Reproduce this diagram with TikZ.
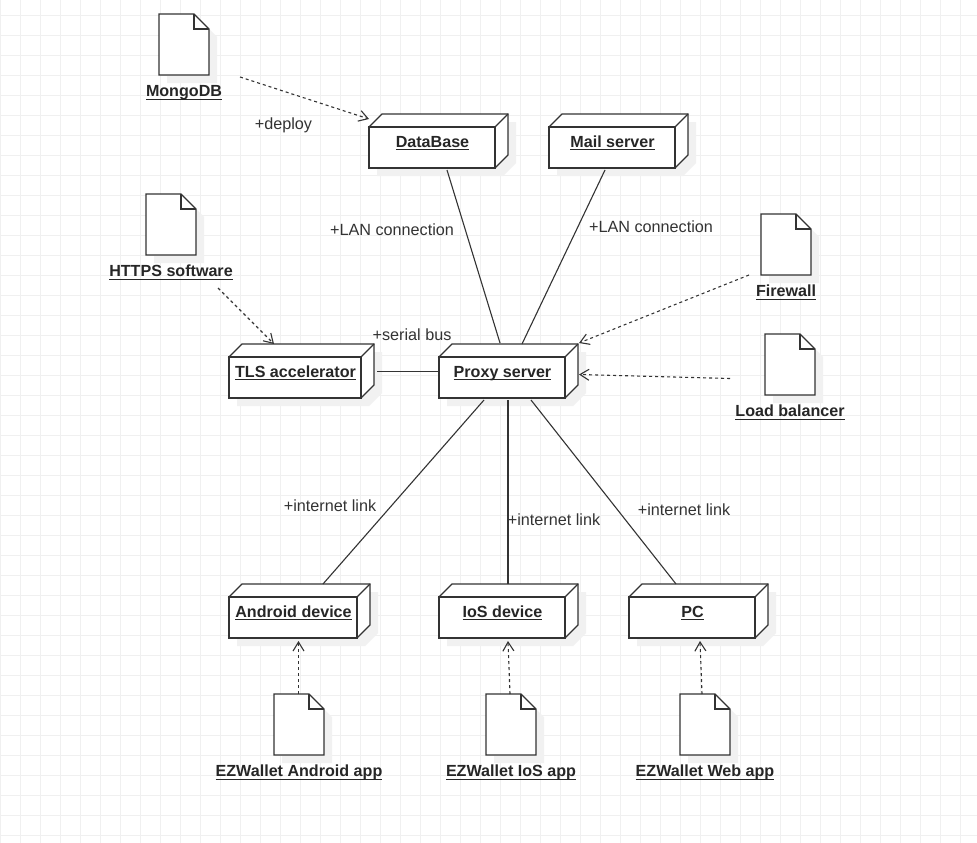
\documentclass[tikz,border=0pt]{standalone}
\usepackage{fontspec}
\setmainfont{Liberation Sans}
\usepackage{tikz}
\usetikzlibrary{arrows.meta,calc}

\definecolor{inkgray}{HTML}{333333}
\definecolor{shadowgray}{HTML}{F1F1F1}
\definecolor{gridgray}{HTML}{F0F0F0}

\tikzset{
  devbox/.style={draw=inkgray, line width=1.1pt, fill=white, inner sep=0pt, outer sep=0pt, minimum height=41pt},
  devtext/.style={font=\fontsize{16.1}{19}\selectfont\bfseries, text=black!85, inner sep=0pt, anchor=base},
  filebox/.style={inner sep=0pt, outer sep=0pt, minimum width=50pt, minimum height=61pt},
  linklabel/.style={font=\fontsize{16.2}{19}\selectfont, text=inkgray, inner sep=0pt},
  linkline/.style={draw=inkgray, line width=1.1pt},
  deploydep/.style={draw=inkgray, line width=1.1pt, dash pattern=on 3pt off 3pt, -{Straight Barb[length=9pt,width=11pt]}},
}

\newlength{\ulabelwd}
\newcommand{\ulabel}[1]{\settowidth{\ulabelwd}{#1}#1\llap{\rule[-3.2pt]{\ulabelwd}{1.1pt}}}

\newcommand{\devnode}[5]{%
  \fill[shadowgray, shift={(8,8)}] (#2,#3) -- ++(13,-13) -- ++(#4,0) -- ++(0,41) -- ++(-13,13) -- ++(-#4,0) -- cycle;
  \draw[draw=inkgray, line width=1.1pt, fill=white] (#2,#3) -- ++(13,-13) -- ++(#4,0) -- ++(0,41) -- ++(-13,13) -- cycle;
  \node[devbox, minimum width=#4pt] (#1) at (#2+#4/2,#3+20.5) {};
  \node[devtext] (#1-text) at (#2+#4/2+.5,#3+20) {\ulabel{#5}};
  \draw[draw=inkgray, line width=1.1pt] (#1.north east) -- ++(13,-13);
}

\newcommand{\filenode}[4]{%
  \fill[shadowgray, shift={(8,8)}] (#2,#3) -- ++(35,0) -- ++(15,15) -- ++(0,46) -- ++(-50,0) -- cycle;
  \draw[draw=inkgray, line width=1.1pt, fill=white] (#2,#3) -- ++(35,0) -- ++(15,15) -- ++(0,46) -- ++(-50,0) -- cycle;
  \draw[draw=inkgray, line width=1.1pt] (#2+35,#3) -- ++(0,15) -- ++(15,0);
  \node[filebox] (#1) at (#2+25,#3+30.5) {};
  \node[devtext] (#1-text) at (#2+25,#3+82.5) {\ulabel{#4}};
}

\begin{document}
\begin{tikzpicture}[x=1pt, y=-1pt]
\useasboundingbox (0,0) rectangle (977,843);
\fill[white] (0,0) rectangle (977,843);
\foreach \gridx in {0,20,...,960}
  \draw[gridgray, line width=.8pt] (\gridx,0) -- (\gridx,843);
\foreach \gridy in {15,35,...,835}
  \draw[gridgray, line width=.8pt] (0,\gridy) -- (977,\gridy);

\devnode{database}{369}{127}{126}{DataBase}
\devnode{mailserver}{549}{127}{126}{Mail server}
\devnode{tlsaccel}{229}{357}{132}{TLS accelerator}
\devnode{proxy}{439}{357}{126}{Proxy server}
\devnode{android}{229}{597}{128}{Android device}
\devnode{iosdevice}{439}{597}{126}{IoS device}
\devnode{pc}{629}{597}{126}{PC}

\filenode{mongodb}{159}{14}{MongoDB}
\filenode{https}{146}{194}{HTTPS software}
\filenode{firewall}{761}{214}{Firewall}
\filenode{balancer}{765}{334}{Load balancer}
\filenode{androidapp}{274}{694}{EZWallet Android app}
\filenode{iosapp}{486}{694}{EZWallet IoS app}
\filenode{webapp}{680}{694}{EZWallet Web app}

\draw[linkline] ($(database.south west)+(78,2)$) -- ($(proxy.north west)+(61,-14)$);
\draw[linkline] ($(mailserver.south west)+(56,2)$) -- ($(proxy.north west)+(83,-13)$);
\draw[linkline] ($(tlsaccel.east)+(16,-6)$) -- ($(proxy.west)+(0,-6)$);
\draw[linkline] ($(proxy.south west)+(45,2)$) -- ($(android.north west)+(94,-13)$);
\draw[linkline] ($(proxy.south west)+(69,2)$) -- ($(iosdevice.north west)+(69,-13)$);
\draw[linkline] ($(proxy.south west)+(92,2)$) -- ($(pc.north west)+(47,-13)$);

\draw[deploydep] ($(mongodb.south east)+(31,2)$) -- ($(database.north west)+(0,-8)$);
\draw[deploydep] ($(https.south east)+(22,33)$) -- ($(tlsaccel.north west)+(45,-13)$);
\draw[deploydep] ($(firewall.south west)+(-12,0)$) -- ($(proxy.north east)+(14,-14)$);
\draw[deploydep] ($(balancer.west)+(-35,14)$) -- ($(proxy.east)+(14,-3)$);
\draw[deploydep] ($(androidapp.north)+(-.5,0)$) -- ($(android.south west)+(69.5,3)$);
\draw[deploydep] ($(iosapp.north)+(-1,0)$) -- ($(iosdevice.south west)+(69,3)$);
\draw[deploydep] ($(webapp.north)+(-3,0)$) -- ($(pc.south west)+(71,3)$);

\node[linklabel] (deploylabel) at (283.5,125) {+deploy};
\node[linklabel] (lanlabela) at (392,230) {+LAN connection};
\node[linklabel] (lanlabelb) at (651,227) {+LAN connection};
\node[linklabel] (seriallabel) at (412,335) {+serial bus};
\node[linklabel] (netlabela) at (330,506) {+internet link};
\node[linklabel] (netlabelb) at (554,520) {+internet link};
\node[linklabel] (netlabelc) at (684,510) {+internet link};
\end{tikzpicture}
\end{document}
